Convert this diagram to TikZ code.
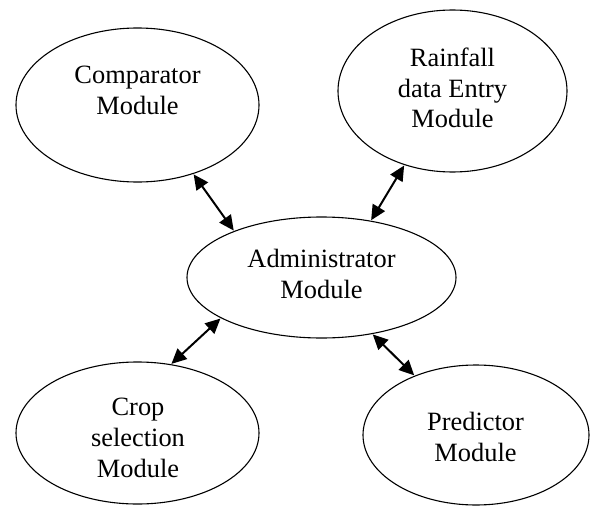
\documentclass[tikz,border=0pt]{standalone}
\usepackage{fontspec}
\setmainfont{Liberation Serif}
\usetikzlibrary{shapes.geometric,arrows.meta}
\tikzset{
  module/.style={ellipse, draw=black, line width=1.1pt, inner sep=0pt},
  lbl/.style={anchor=base, inner sep=0pt, font=\fontsize{26.4}{31}\selectfont},
  link/.style={line width=2pt, {Triangle[length=15pt,width=14pt]}-{Triangle[length=15pt,width=14pt]}, shorten <=0.5pt, shorten >=0.5pt}
}
\begin{document}
\begin{tikzpicture}[x=1pt,y=-1pt]
\useasboundingbox (0,0) rectangle (592,506);
% ellipses
\node[module, minimum width=243pt, minimum height=154pt] (comp) at (137.5,105) {};
\node[module, minimum width=229pt, minimum height=162pt] (rain) at (452.5,91) {};
\node[module, minimum width=269pt, minimum height=121pt] (admin) at (321.5,277.5) {};
\node[module, minimum width=243pt, minimum height=142pt] (crop) at (137.5,433) {};
\node[module, minimum width=226pt, minimum height=140pt] (pred) at (476,435) {};
% labels
\node[lbl] (compT) at (137.5,83) {\begin{tabular}[t]{@{}c@{}}Comparator\\Module\end{tabular}};
\node[lbl] (rainT) at (452.5,66) {\begin{tabular}[t]{@{}c@{}}Rainfall\\data Entry\\Module\end{tabular}};
\node[lbl] (adminT) at (321.5,267) {\begin{tabular}[t]{@{}c@{}}Administrator\\Module\end{tabular}};
\node[lbl] (cropT) at (138,415) {\begin{tabular}[t]{@{}c@{}}Crop\\selection\\Module\end{tabular}};
\node[lbl] (predT) at (475.5,430) {\begin{tabular}[t]{@{}c@{}}Predictor\\Module\end{tabular}};
% connectors
\draw[link] (comp.-51) -- (admin.152);
\draw[link] (rain.-123) -- (admin.49);
\draw[link] (admin.202) -- (crop.64);
\draw[link] (admin.-48) -- (pred.136);
\end{tikzpicture}
\end{document}
